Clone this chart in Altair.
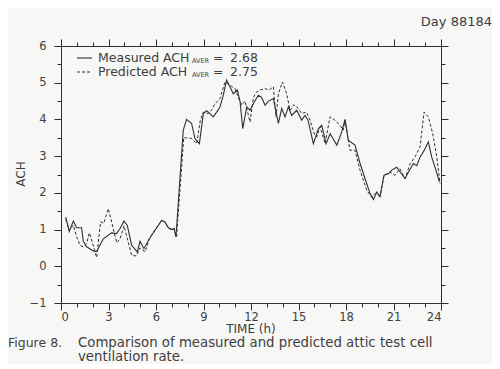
import altair as alt
import pandas as pd

# ---- data ----
meas_t = [0.3, 0.52, 0.78, 0.99, 1.3, 1.41, 1.62, 2.04, 2.25, 2.67, 3.2, 3.5, 3.73, 3.98, 4.19, 4.46,
          4.82, 4.99, 5.24, 5.58, 5.94, 6.36, 6.57, 6.78, 6.99, 7.14, 7.26, 7.72, 7.93, 8.25, 8.46,
          8.74, 8.99, 9.2, 9.41, 9.62, 9.83, 10.04, 10.25, 10.46, 10.67, 10.88, 11.14, 11.31, 11.48,
          11.73, 11.94, 12.2, 12.46, 12.67, 12.89, 13.1, 13.41, 13.73, 13.94, 14.15, 14.36, 14.57,
          14.89, 15.2, 15.41, 15.6, 15.94, 16.26, 16.47, 16.74, 17.0, 17.42, 17.73, 17.94, 18.15,
          18.57, 18.89, 19.2, 19.52, 19.73, 19.94, 20.15, 20.4, 20.68, 20.89, 21.2, 21.5, 21.73,
          21.94, 22.26, 22.47, 22.68, 22.93, 23.2, 23.41, 23.62, 23.9]
meas_v = [1.34, 0.95, 1.23, 1.05, 1.05, 0.68, 0.53, 0.42, 0.40, 0.75, 0.91, 0.89, 1.03, 1.23, 1.11, 0.57,
          0.39, 0.68, 0.48, 0.75, 0.98, 1.25, 1.21, 1.05, 1.0, 1.03, 0.80, 3.7, 4.0, 3.89, 3.48,
          3.34, 4.16, 4.24, 4.16, 4.07, 4.2, 4.34, 4.66, 5.07, 4.89, 4.7, 4.8, 4.48, 3.75,
          4.34, 4.25, 4.47, 4.66, 4.6, 4.39, 4.5, 4.57, 3.89, 4.3, 4.07, 4.34, 4.11,
          4.25, 3.98, 4.11, 3.98, 3.34, 3.75, 3.84, 3.34, 3.61, 3.3, 3.66, 4.0, 3.43,
          3.3, 2.8, 2.39, 1.98, 1.82, 2.02, 1.9, 2.48, 2.52, 2.62, 2.7, 2.52, 2.39,
          2.56, 2.8, 2.74, 2.98, 3.15, 3.39, 2.98, 2.7, 2.3]

pred_t = [0.3, 0.52, 0.78, 0.99, 1.2, 1.41, 1.62, 1.79, 2.0, 2.25, 2.5, 2.7, 2.99, 3.2, 3.52, 3.73,
          3.98, 4.19, 4.46, 4.75, 4.99, 5.31, 5.58, 5.94, 6.36, 6.57, 6.78, 6.99, 7.14, 7.3, 7.75,
          7.93, 8.25, 8.57, 8.8, 8.99, 9.3, 9.5, 9.73, 10.04, 10.36, 10.67, 10.99, 11.2, 11.42,
          11.62, 11.94, 12.15, 12.36, 12.57, 12.89, 13.15, 13.41, 13.58, 13.73, 13.99, 14.25, 14.47,
          14.7, 14.99, 15.2, 15.5, 15.73, 16.0, 16.15, 16.36, 16.68, 16.99, 17.3, 17.62, 17.83,
          17.94, 18.25, 18.57, 18.89, 19.31, 19.62, 19.83, 20.15, 20.4, 20.78, 21.1, 21.4, 21.73,
          22.05, 22.36, 22.68, 22.93, 23.2, 23.48, 23.73, 23.94]
pred_v = [1.28, 0.98, 1.12, 0.8, 0.57, 0.53, 0.62, 0.91, 0.62, 0.24, 1.21, 1.17, 1.57, 1.2, 0.64, 0.75,
          1.1, 0.75, 0.3, 0.28, 0.5, 0.39, 0.75, 1.0, 1.25, 1.2, 1.05, 1.0, 1.03, 0.8, 3.5,
          3.5, 3.48, 3.34, 3.98, 4.2, 4.16, 4.25, 4.43, 4.57, 5.02, 4.93, 4.84, 4.6, 4.39,
          4.5, 3.93, 4.6, 4.75, 4.8, 4.84, 4.8, 4.89, 4.07, 4.7, 5.02, 4.7, 4.25,
          4.4, 4.3, 4.16, 4.2, 3.98, 3.6, 3.52, 3.8, 3.34, 4.07, 3.98, 3.84, 3.71,
          3.98, 3.16, 3.16, 2.61, 2.07, 1.88, 1.98, 1.9, 2.48, 2.57, 2.48, 2.66, 2.39,
          2.79, 2.98, 3.26, 4.2, 4.07, 3.61, 2.98, 2.25]

x_tick_values = [0, 1, 2, 3, 4, 5, 6, 7, 8, 9, 10, 11, 12, 13, 14, 15, 16, 17, 18, 19, 20, 21, 22, 23, 24]
y_tick_values = [-1, -0.5, 0, 0.5, 1, 1.5, 2, 2.5, 3, 3.5, 4, 4.5, 5, 5.5, 6]

meas_df = pd.DataFrame({"t": meas_t, "v": meas_v})
pred_df = pd.DataFrame({"t": pred_t, "v": pred_v})

INK = "#303030"
TXT = "#404040"
FONT = "DejaVu Sans"

xscale = alt.Scale(domain=[0, 24], nice=False, zero=False)
yscale = alt.Scale(domain=[-1, 6], nice=False, zero=False)

major_x = {"condition": {"test": "datum.value % 3 === 0", "value": 7}, "value": 4}
major_y = {"condition": {"test": "datum.value % 1 === 0", "value": 7}, "value": 4}

x_bottom = alt.X("t:Q", scale=xscale, axis=alt.Axis(
    values=x_tick_values, labelExpr="datum.value % 3 === 0 ? format(datum.value, 'd') : ''",
    title=None, grid=False, tickSize=major_x, labelPadding=1, orient="bottom"))
y_left = alt.Y("v:Q", scale=yscale, axis=alt.Axis(
    values=y_tick_values, labelExpr="datum.value % 1 === 0 ? format(datum.value, 'd') : ''",
    title=None, grid=False, tickSize=major_y, labelPadding=8, orient="left"))
x_top = alt.X("t:Q", scale=xscale, axis=alt.Axis(
    values=x_tick_values, labels=False, title=None, grid=False, tickSize=major_x, orient="top"))
y_right = alt.Y("v:Q", scale=yscale, axis=alt.Axis(
    values=y_tick_values, labels=False, title=None, grid=False, tickSize=major_y, orient="right"))

measured = alt.Chart(meas_df).mark_line(color=INK, strokeWidth=1.1).encode(x=x_bottom, y=y_left)
predicted = alt.Chart(pred_df).mark_line(color=INK, strokeWidth=1.0, strokeDash=[3, 2]).encode(x=x_top, y=y_right)

one = pd.DataFrame({"a": [0]})


def txt(s, x, y, size=12, align="left", angle=0, dy=0):
    kw = dict(align=align, baseline="middle", fontSize=size, font=FONT, color=TXT, dy=dy)
    if angle:
        kw["angle"] = angle
    return alt.Chart(one).mark_text(**kw).encode(
        x=alt.value(x), y=alt.value(y), text=alt.value(s))


def leg_line(y, dash=None):
    kw = dict(color=INK, strokeWidth=1.1)
    if dash:
        kw["strokeDash"] = dash
    return alt.Chart(one).mark_rule(**kw).encode(
        x=alt.value(16), x2=alt.value(31), y=alt.value(y))


annotations = [
    leg_line(12), leg_line(26, [3, 2]),
    txt("Measured ACH", 37, 12, 12.5),
    txt("AVER", 131, 12, 6.5, dy=3),
    txt("=", 152, 12, 12.5),
    txt("2.68", 169, 12, 12.5),
    txt("Predicted ACH", 37, 26, 12.5),
    txt("AVER", 131, 26, 6.5, dy=3),
    txt("=", 152, 26, 12.5),
    txt("2.75", 169, 26, 12.5),
    txt("Day 88184", 431, -24, 13, align="right"),
    txt("ACH", -40, 128, 12, align="center", angle=270),
    txt("TIME (h)", 190, 283, 12, align="center"),
    txt("Figure 8.", -53, 297, 12.5),
    txt("Comparison of measured and predicted attic test cell", 17, 297, 13.3),
    txt("ventilation rate.", 17, 311, 13.3),
]

chart = alt.layer(measured, predicted, *annotations).resolve_scale(
    x="shared", y="shared"
).properties(
    width=380, height=257,
    autosize=alt.AutoSizeParams(type="none"),
    padding={"left": 53, "top": 38, "right": 51, "bottom": 61},
    background="#f7f7f5",
).configure_view(
    stroke=INK, strokeWidth=1
).configure_axis(
    labelFont=FONT, labelFontSize=11.5, labelColor=TXT,
    domainColor=INK, tickColor=INK, domainWidth=1, tickWidth=1,
)

chart.save("out.html", embed_options={"renderer": "svg", "actions": False})
